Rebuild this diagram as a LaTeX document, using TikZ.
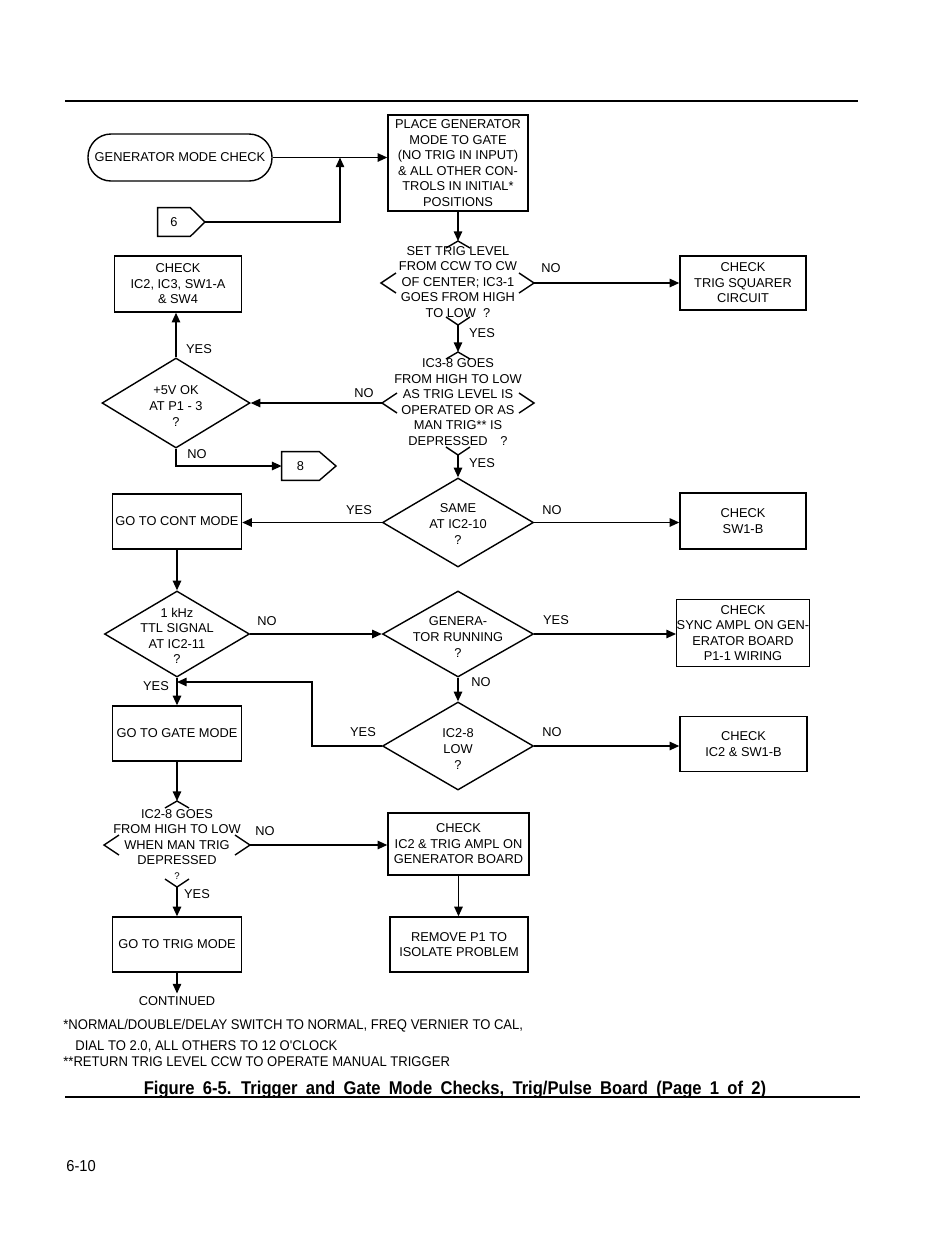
\documentclass[tikz,border=0pt]{standalone}
\usepackage{fontspec}
\setmainfont{Liberation Sans}
\newfontfamily\narrowfont[FakeStretch=0.93]{Liberation Sans}
\newfontfamily\capfont[FakeStretch=0.9,WordSpace=1.8]{Liberation Sans}
\usetikzlibrary{arrows.meta,shapes.geometric,calc}
\newcommand\topmk[1]{\draw[ln] (#1) ++(-12,7) -- (#1) -- ++(12,7);}
\newcommand\botmk[1]{\draw[ln] (#1) ++(-12,-8) -- (#1) -- ++(12,-8);}
\newcommand\lftmk[1]{\draw[ln] (#1) ++(15,-10) -- (#1) -- ++(15,10);}
\newcommand\rgtmk[1]{\draw[ln] (#1) ++(-15,-10) -- (#1) -- ++(-15,10);}
\begin{document}
\begin{tikzpicture}[x=0.02cm,y=-0.02cm,
 ln/.style={line width=0.8pt},
 arr/.style={ln,-{Triangle[length=5.5pt,width=4.8pt]}},
 tx/.style={font=\fontsize{7.3}{8.85}\selectfont, align=center, inner sep=0pt},
 box/.style={tx, draw, ln},
 sz/.style 2 args={minimum width=#1*0.02cm, minimum height=#2*0.02cm},
 dia/.style={draw, ln, diamond, inner sep=0pt},
 fn/.style={font=\narrowfont\fontsize{8}{9}\selectfont, inner sep=0pt, anchor=base west}]
\useasboundingbox (0,0) rectangle (950,1235);
\fill[white] (0,0) rectangle (950,1235);
\draw[line width=1pt] (65,101) -- (858,101);

% top
\node[box, sz={184}{47}, rounded corners=0.46cm] (start) at (180,157.5) {GENERATOR MODE CHECK};
\node[box, sz={140}{96}] (place) at (458,163) {PLACE GENERATOR\\MODE TO GATE\\(NO TRIG IN INPUT)\\\& ALL OTHER CON-\\TROLS IN INITIAL*\\POSITIONS};
\node[tx, sz={32}{28}] (c6) at (174,222) {6};
\draw[ln] (c6.north west) -- (c6.north east) -- (205,222) coordinate (c6tip) -- (c6.south east) -- (c6.south west) -- cycle;
\coordinate (j6) at (340,157.5);
\draw[arr] (start.east) -- (start.east -| place.west);
\draw[arr] (c6tip) -- (c6tip -| j6) -- (j6);

% decision 1 (open)
\node[tx] (d1) at (458,282) {SET TRIG LEVEL\\FROM CCW TO CW\\OF CENTER; IC3-1\\GOES FROM HIGH\\TO LOW\ \ ?};
\coordinate (d1t) at (458,241);
\coordinate (d1l) at (381,283);
\coordinate (d1r) at (534,283);
\coordinate (d1b) at (458,325);
\topmk{d1t}\lftmk{d1l}\rgtmk{d1r}\botmk{d1b}
\draw[arr] (place.south) -- (d1t);
\node[box, sz={126}{54}] (trig) at (743,283) {CHECK\\TRIG SQUARER\\CIRCUIT};
\draw[arr] (d1r) -- (d1r -| trig.west);
\node[tx] (n1) at (551,268) {NO};

% decision 2 (open)
\node[tx] (d2) at (458,402) {IC3-8 GOES\\FROM HIGH TO LOW\\AS TRIG LEVEL IS\\OPERATED OR AS\\MAN TRIG** IS\\DEPRESSED\quad ?};
\coordinate (d2t) at (458,352);
\coordinate (d2l) at (382,403);
\coordinate (d2r) at (534,403);
\coordinate (d2b) at (458,455);
\topmk{d2t}\lftmk{d2l}\rgtmk{d2r}\botmk{d2b}
\draw[arr] (d1b) -- (d2t);
\node[tx] (y1) at (482,333) {YES};

% +5V
\node[dia, sz={148}{90}] (v5) at (176,403) {};
\node[tx] (v5t) at (176,406) {+5V OK\\AT P1 - 3\\?};
\draw[arr] (d2l) -- (v5.east);
\node[tx] (n2) at (364,393) {NO};
\node[box, sz={127}{56}] (chk1) at (178,284) {CHECK\\IC2, IC3, SW1-A\\\& SW4};
\draw[arr] (v5.north) -- (v5.north |- chk1.south);
\node[tx] (y2) at (199,349) {YES};
\node[tx, sz={37}{28}] (c8) at (300.5,466) {8};
\draw[ln] (c8.north west) -- (c8.north east) -- (336,466) -- (c8.south east) -- (c8.south west) -- cycle;
\draw[arr] (v5.south) -- (v5.south |- c8.west) -- (c8.west);
\node[tx] (n3) at (197,454) {NO};

% SAME
\node[dia, sz={151}{89}] (d3) at (458,522.5) {};
\node[tx] (d3t) at (458,524) {SAME\\AT IC2-10\\?};
\draw[arr] (d2b) -- (d3.north);
\node[tx] (y3) at (482,463) {YES};
\node[box, sz={129}{55}] (cont) at (177,521.5) {GO TO CONT MODE};
\draw[arr] (d3.west) -- (d3.west -| cont.east);
\node[tx] (y4) at (359,510) {YES};
\node[box, sz={126}{56}] (sw1b) at (743,521) {CHECK\\SW1-B};
\draw[arr] (d3.east) -- (d3.east -| sw1b.west);
\node[tx] (n4) at (552,510) {NO};

% 1 kHz
\node[dia, sz={145}{86}] (k1) at (177,634) {};
\node[tx] (k1t) at (177,636) {1 kHz\\TTL SIGNAL\\AT IC2-11\\?};
\draw[arr] (cont.south) -- (k1.north);
\node[dia, sz={151}{86}] (gr) at (458,634) {};
\node[tx] (grt) at (458,637) {GENERA-\\TOR RUNNING\\?};
\draw[arr] (k1.east) -- (gr.west);
\node[tx] (n5) at (267,621) {NO};
\node[box, sz={132}{67}] (sync) at (743,633) {CHECK\\SYNC AMPL ON GEN-\\ERATOR BOARD\\P1-1 WIRING};
\draw[arr] (gr.east) -- (gr.east -| sync.west);
\node[tx] (y5) at (556,620) {YES};

% IC2-8 LOW
\node[dia, sz={151}{88}] (lo) at (458,746) {};
\node[tx] (lot) at (458,749) {IC2-8\\LOW\\?};
\draw[arr] (gr.south) -- (lo.north);
\node[tx] (n6) at (481,682) {NO};
\node[box, sz={127}{55}] (ic2sw) at (743.5,744) {CHECK\\IC2 \& SW1-B};
\draw[arr] (lo.east) -- (lo.east -| ic2sw.west);
\node[tx] (n7) at (552,732) {NO};
\node[box, sz={129}{55}] (gate) at (177,733.5) {GO TO GATE MODE};
\draw[arr] (k1.south) -- (gate.north);
\node[tx] (y6) at (156,686) {YES};
\coordinate (jy) at (177,682);
\draw[arr] (lo.west) -- ++(-70,0) |- (jy);
\node[tx] (y7) at (363,732) {YES};

% decision 4 (open)
\node[tx] (d4) at (177,837) {IC2-8 GOES\\FROM HIGH TO LOW\\WHEN MAN TRIG\\DEPRESSED};
\coordinate (d4t) at (177,801);
\coordinate (d4l) at (104,845);
\coordinate (d4r) at (250,845);
\coordinate (d4b) at (177,887);
\topmk{d4t}\lftmk{d4l}\rgtmk{d4r}\botmk{d4b}
\node[tx, font=\fontsize{5.5}{6}\selectfont] (q4) at (177,876) {?};
\draw[arr] (gate.south) -- (d4t);
\node[box, sz={141}{62}] (ampl) at (458.5,844) {CHECK\\IC2 \& TRIG AMPL ON\\GENERATOR BOARD};
\draw[arr] (d4r) -- (d4r -| ampl.west);
\node[tx] (n8) at (265,831) {NO};
\node[box, sz={138}{55}] (remove) at (459,944.5) {REMOVE P1 TO\\ISOLATE PROBLEM};
\draw[arr] (ampl.south) -- (ampl.south |- remove.north);
\node[box, sz={129}{55}] (trigm) at (177,944.5) {GO TO TRIG MODE};
\draw[arr] (d4b) -- (trigm.north);
\node[tx] (y8) at (197,894) {YES};
\node[tx] (contd) at (177,1001) {CONTINUED};
\draw[arr, shorten >=1.5pt] (trigm.south) -- (contd.north);

% footnotes
\node[fn] (f1) at (63,1029) {*NORMAL/DOUBLE/DELAY SWITCH TO NORMAL, FREQ VERNIER TO CAL,};
\node[fn] (f2) at (75,1050) {DIAL TO 2.0, ALL OTHERS TO 12 O'CLOCK};
\node[fn] (f3) at (63,1066) {**RETURN TRIG LEVEL CCW TO OPERATE MANUAL TRIGGER};
\node[font=\capfont\bfseries\fontsize{10.5}{12}\selectfont, inner sep=0pt, anchor=base] (cap) at (455,1094) {Figure 6-5. Trigger and Gate Mode Checks, Trig/Pulse Board (Page 1 of 2)};
\draw[line width=1pt] (65,1097) -- (860,1097);
\node[fn, font=\narrowfont\fontsize{9}{10}\selectfont] (pg) at (66,1171) {6-10};
\end{tikzpicture}
\end{document}
